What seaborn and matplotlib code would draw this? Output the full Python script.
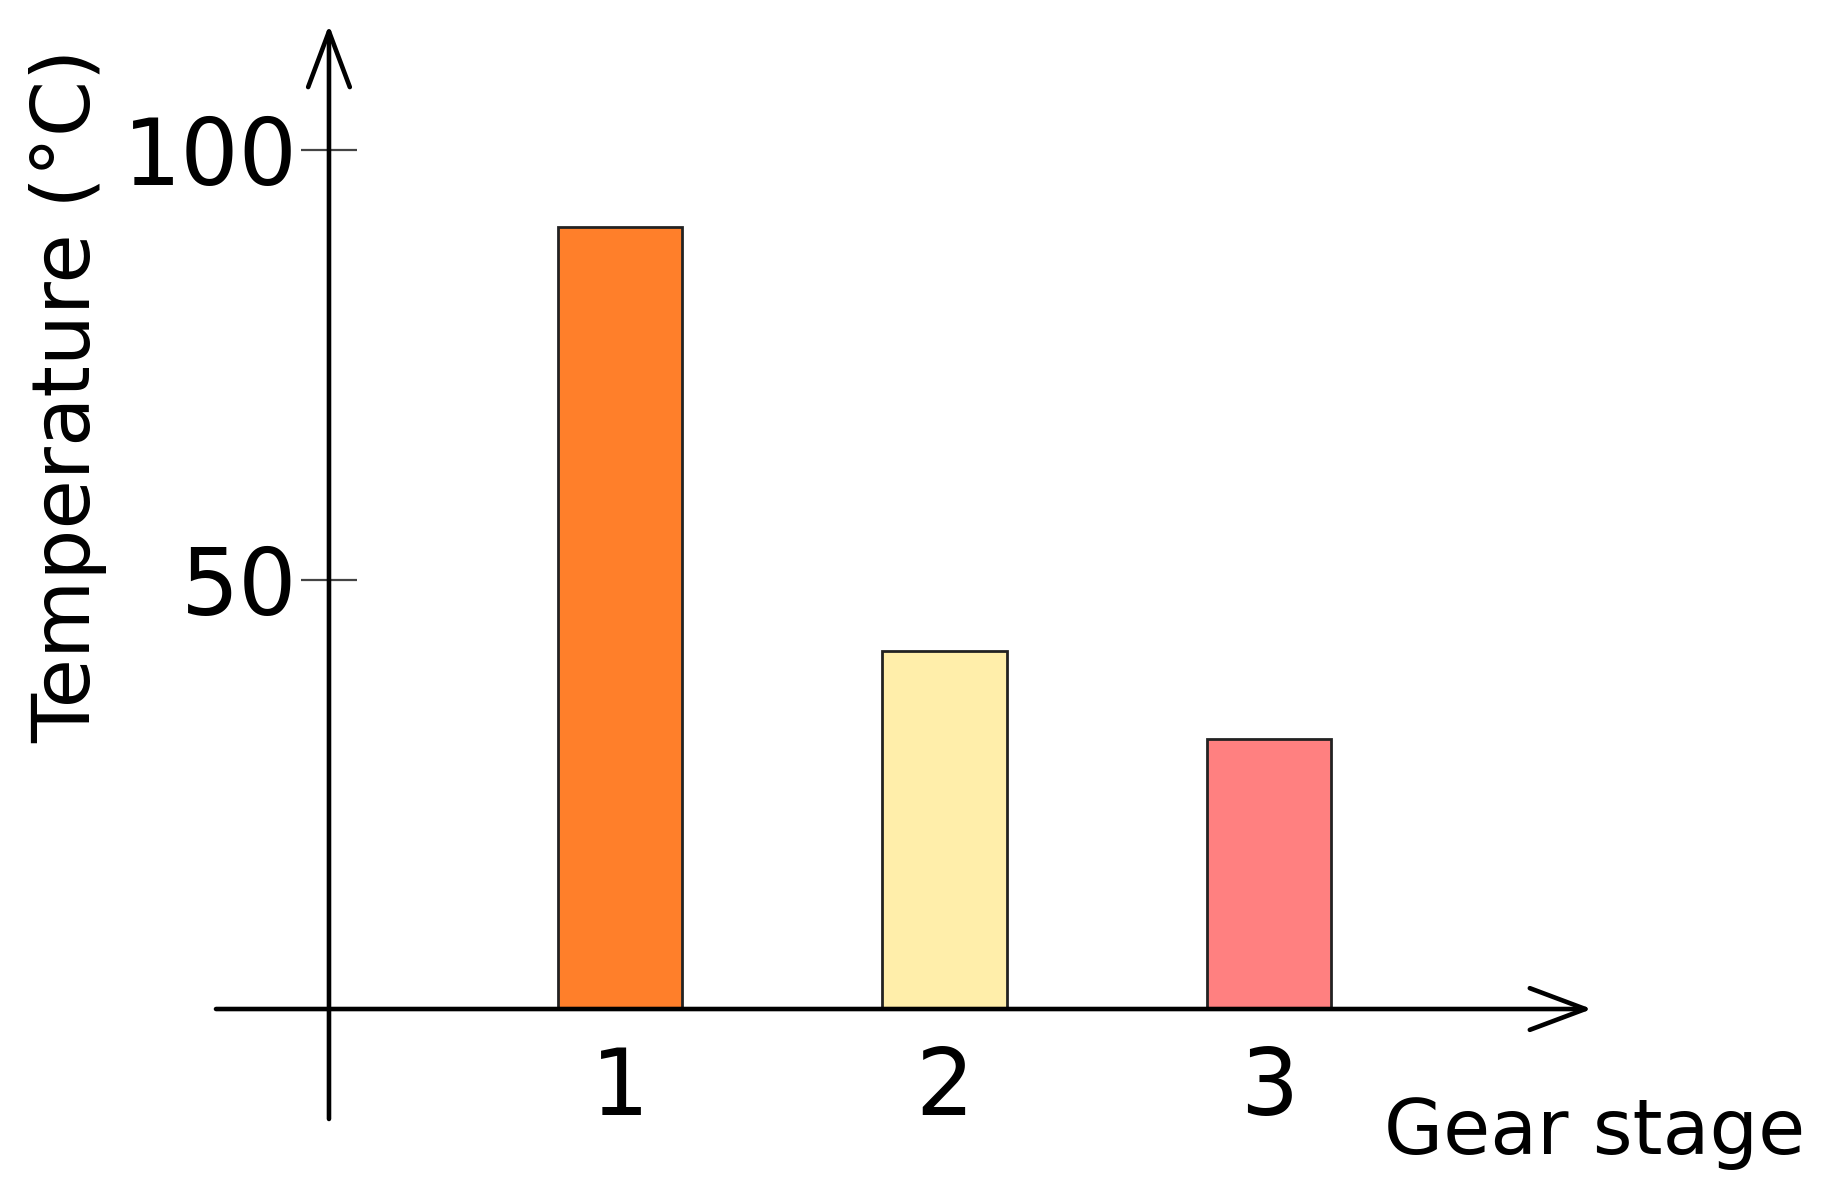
from matplotlib import pyplot as plt
import seaborn as sns

# data
stages = ['1', '2', '3']
temps = [91.0, 41.7, 31.4]
bar_colors = ['#FF7F2A', '#FFEEAA', '#FF8080']
y_ticks = [50, 100]

sns.set_theme(style='white')
plt.rcParams['font.family'] = ['DejaVu Sans']
plt.rcParams['text.color'] = 'black'
plt.rcParams['axes.labelcolor'] = 'black'
plt.rcParams['xtick.color'] = 'black'
plt.rcParams['ytick.color'] = 'black'

fig = plt.figure(figsize=(18.28, 11.84), dpi=100)
ax = fig.add_axes([0, 0, 1, 1])

sns.barplot(x=stages, y=temps, hue=stages, palette=bar_colors, width=0.385,
            saturation=1, edgecolor='#222222', linewidth=2, legend=False, ax=ax)

# axes range so the picture lands where the reference has it
ax.set_xlim(-1.9106, 3.7226)
ax.set_ylim(-20.37, 117.46)

# hand-drawn style axes: arrows instead of spines
y_axis_x = -0.8968
arrow = dict(arrowstyle='->,head_length=40,head_width=15', mutation_scale=1,
             lw=3.3, color='black', shrinkA=0, shrinkB=0)
ax.annotate('', xy=(y_axis_x, 114.55), xytext=(y_axis_x, -12.8),
            arrowprops=arrow, annotation_clip=False)
ax.annotate('', xy=(2.995, 0), xytext=(-1.245, 0),
            arrowprops=arrow, annotation_clip=False)

for s in ax.spines.values():
    s.set_visible(False)
ax.spines['left'].set_position(('data', y_axis_x))
ax.spines['bottom'].set_position(('data', 0))

ax.set_yticks(y_ticks)
ax.tick_params(axis='y', direction='inout', length=41, width=1.6,
               color='#444444', labelsize=66, pad=2, left=True)
ax.tick_params(axis='x', length=0, labelsize=66, pad=25)

ax.set_xlabel('Gear stage', fontsize=55)
ax.xaxis.set_label_coords(0.8726, 0.0743)
ax.set_ylabel('Temperature (°C)', fontsize=58)
ax.yaxis.set_label_coords(0.0585, 0.6655)

fig.savefig('out.png', dpi=100, facecolor='white')
